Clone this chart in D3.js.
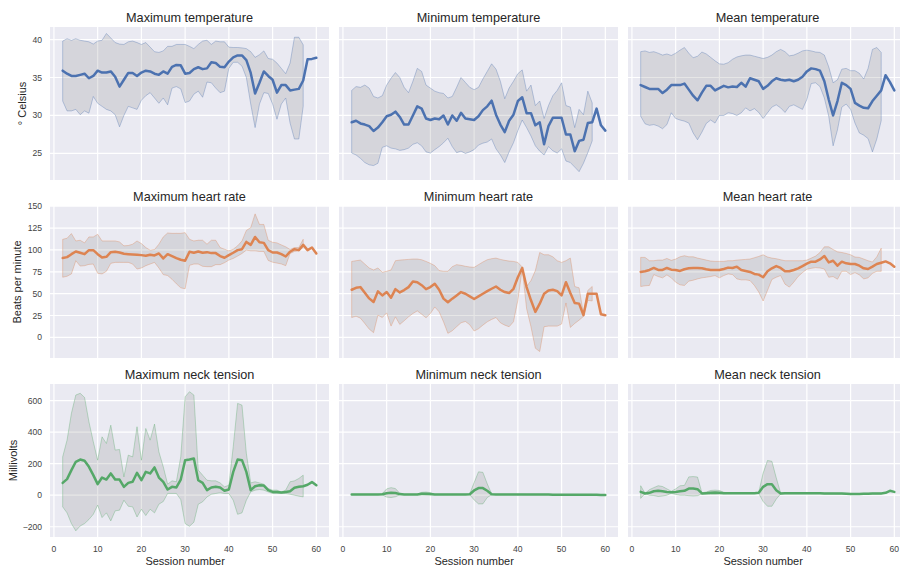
<!DOCTYPE html>
<html>
<head>
<meta charset="utf-8">
<script src="https://cdn.jsdelivr.net/npm/d3@7"></script>
<style>
  body { margin: 0; background: #fff; }
  svg text { font-family: "Liberation Sans", Arial, sans-serif; fill: #262626; }
</style>
</head>
<body>
<svg id="chart" width="900" height="569"></svg>
<script>
// session numbers on the x axis
const sessions = [
  2, 3, 4, 5, 6, 7, 8, 9, 10, 11,
  12, 13, 14, 15, 16, 17, 18, 19, 20, 21,
  22, 23, 24, 25, 26, 27, 28, 29, 30, 31,
  32, 33, 34, 35, 36, 37, 38, 39, 40, 41,
  42, 43, 44, 45, 46, 47, 48, 49, 50, 51,
  52, 53, 54, 55, 56, 57, 58, 59, 60
];

// ---- temperature (° Celsius) ----
const maxTempMean = [
  35.9, 35.5, 35.2, 35.2, 35.35, 35.5, 34.9, 35.2, 35.9, 35.65,
  35.65, 35.8, 35.1, 33.8, 34.7, 35.6, 35.6, 35.2, 35.65, 35.9,
  35.8, 35.5, 35.35, 35.8, 35.5, 36.4, 36.65, 36.6, 35.5, 35.6,
  36.1, 36.35, 36.1, 36.2, 37.0, 36.9, 36.4, 36.35, 37.1, 37.65,
  37.9, 37.9, 37.3, 35.6, 32.9, 34.3, 35.8, 35.2, 34.7, 33.0,
  34.0, 34.0, 33.3, 33.4, 33.5, 34.6, 37.4, 37.45, 37.6
];
const maxTempHi = [
  39.8, 40.1, 39.9, 40.1, 39.9, 39.8, 39.7, 39.4, 39.8, 39.9,
  40.8, 40.2, 39.6, 39.4, 39.35, 39.7, 39.8, 39.6, 39.35, 39.6,
  39.0, 38.4, 38.3, 38.5, 39.1, 39.1, 39.35, 39.35, 39.35, 39.1,
  38.8, 39.35, 39.8, 39.9, 39.35, 39.8, 39.7, 39.7, 39.0, 38.95,
  38.95, 38.9, 38.8, 38.4, 37.65, 38.0, 38.5, 37.5, 37.4, 36.9,
  36.2, 35.5, 36.9, 40.3, 40.3, 39.3
];
const maxTempLo = [
  31.9, 30.6, 30.6, 30.8, 30.1, 30.6, 30.3, 32.5, 31.6, 31.2,
  30.8, 30.6, 30.1, 28.5, 30.0, 31.2, 31.0, 30.8, 32.0, 32.6,
  33.0, 32.3, 31.6, 32.3, 31.4, 33.6, 33.8, 33.5, 31.7, 31.9,
  32.8, 33.2, 32.4, 34.4, 34.3, 33.6, 33.0, 33.2, 36.2, 37.0,
  37.0, 36.5, 35.0, 31.5, 28.4, 31.5, 33.0, 32.9, 31.5, 29.5,
  31.5, 32.3, 29.0, 26.9, 26.9, 31.2
];
const minTempMean = [
  29.1, 29.3, 28.95, 28.8, 28.6, 27.95, 28.4, 29.1, 29.9, 30.1,
  30.5, 29.8, 28.8, 28.8, 30.0, 31.2, 30.9, 29.6, 29.4, 29.6,
  29.5, 30.0, 28.8, 30.0, 29.3, 30.35, 29.6, 29.5, 29.4, 29.9,
  30.7, 31.2, 31.95, 30.1, 28.8, 27.8, 29.3, 30.1, 31.9, 32.4,
  30.3, 30.3, 28.7, 29.1, 26.2, 28.6, 29.7, 29.7, 29.7, 27.5,
  27.5, 25.3, 26.65, 26.8, 29.0, 29.1, 30.9, 28.7, 28.0
];
const minTempHi = [
  33.3, 33.8, 33.7, 34.0, 33.6, 32.5, 32.3, 32.6, 34.0, 34.9,
  35.65, 35.0, 33.7, 33.0, 34.5, 36.2, 35.8, 34.0, 33.6, 33.2,
  33.0, 32.9, 32.3, 32.5, 33.7, 35.0, 34.35, 33.7, 33.4, 33.7,
  34.8, 35.8, 36.8, 36.1, 34.5, 32.2, 33.6, 34.5, 35.5, 36.0,
  33.2, 34.0, 31.3, 31.9, 29.6, 31.3, 32.6, 33.3, 34.3, 31.3,
  31.1, 28.4, 30.8, 30.1, 33.2, 31.65
];
const minTempLo = [
  25.05, 24.8, 24.35, 23.8, 23.5, 23.4, 23.7, 25.8, 26.0, 25.7,
  25.6, 25.4, 25.5, 25.7, 26.2, 26.4, 26.0, 25.2, 25.05, 25.5,
  25.9, 26.4, 27.0, 25.9, 25.1, 25.3, 25.0, 25.2, 25.5, 26.1,
  26.35, 26.5, 26.9, 25.6, 24.8, 23.8, 25.2, 26.4, 28.0, 29.4,
  28.4, 27.3, 26.0, 25.3, 24.8, 25.9, 25.35, 25.05, 25.6, 24.0,
  23.8, 23.2, 22.6, 23.7, 25.1, 26.65
];
const meanTempMean = [
  34.0, 33.75, 33.5, 33.5, 33.5, 32.95, 33.4, 34.0, 34.0, 34.0,
  34.2, 33.4, 32.6, 32.0, 33.0, 33.9, 33.9, 33.3, 33.6, 33.9,
  33.7, 33.8, 33.75, 34.3, 33.8, 34.9, 34.7, 34.5, 33.5, 33.9,
  34.5, 34.9, 34.7, 34.6, 34.7, 34.5, 34.7, 35.1, 35.8, 36.2,
  36.1, 35.9, 34.5, 32.1, 30.0, 31.9, 34.3, 34.0, 33.5, 31.65,
  31.3, 31.0, 30.95, 31.9, 32.6, 33.3, 35.3, 34.4, 33.3
];
const meanTempHi = [
  38.4, 38.5, 38.3, 38.4, 38.2, 37.95, 38.1, 37.9, 38.2, 38.6,
  38.95, 38.2, 37.6, 37.8, 38.35, 38.1, 37.65, 37.2, 36.8, 36.75,
  36.95, 37.4, 37.7, 37.85, 37.95, 37.95, 37.8, 37.65, 37.5, 37.65,
  37.95, 38.4, 38.7, 38.4, 37.85, 37.95, 38.2, 38.5, 38.6, 38.5,
  38.35, 38.3, 37.95, 36.4, 34.3, 34.7, 36.1, 36.2, 35.9, 35.9,
  35.55, 34.8, 36.2, 38.7, 38.95, 38.3
];
const meanTempLo = [
  29.9, 28.9, 28.7, 28.8, 28.6, 28.25, 28.8, 30.35, 29.6, 29.4,
  29.25, 29.0, 27.7, 26.8, 27.8, 28.95, 29.4, 29.0, 30.0, 30.0,
  30.35, 30.25, 30.0, 30.35, 31.0, 30.6, 30.9, 30.4, 29.6, 30.35,
  31.1, 31.4, 31.0, 30.4, 31.2, 31.4, 31.1, 30.8, 32.1, 34.2,
  34.3, 33.8, 32.3, 29.9, 26.0, 28.1, 31.1, 31.5, 30.8, 29.0,
  27.7, 27.4, 26.95, 25.2, 26.9, 29.3
];

// ---- heart rate (beats per minute) ----
const maxHrMean = [
  90.7, 91.8, 95.2, 98.3, 96.8, 95.2, 99.8, 99.8, 95.2, 91.5,
  92.2, 97.5, 97.9, 97.1, 95.6, 95.2, 94.9, 94.5, 94.1, 93.4,
  94.5, 93.7, 96.0, 90.3, 95.2, 93.0, 90.7, 88.8, 87.7, 97.9,
  96.8, 98.3, 96.8, 97.5, 96.4, 96.4, 93.0, 91.1, 94.1, 96.8,
  99.8, 100.9, 109.2, 105.8, 114.9, 108.8, 108.1, 99.8, 97.1, 97.1,
  95.2, 92.5, 98.0, 100.9, 99.8, 105.8, 99.8, 102.8, 96.0
];
const maxHrHi = [
  112.2, 113.4, 118.7, 110.3, 111.1, 108.1, 114.9, 114.9, 117.9, 110.3,
  110.3, 110.3, 110.3, 109.2, 104.7, 105.1, 106.6, 110.3, 107.3, 102.8,
  99.8, 100.5, 106.6, 114.9, 119.4, 119.0, 119.0, 119.0, 119.8, 112.2,
  110.3, 111.1, 111.1, 106.6, 111.1, 111.1, 102.8, 100.9, 99.0, 100.9,
  104.7, 110.3, 122.4, 125.5, 141.3, 129.2, 129.2, 111.1, 108.8, 108.1,
  105.8, 103.6, 100.5, 102.8, 102.8, 112.2
];
const maxHrLo = [
  68.8, 69.9, 72.6, 87.7, 81.6, 82.0, 83.5, 83.9, 73.3, 72.6,
  75.6, 84.7, 85.8, 85.8, 85.8, 85.8, 83.9, 78.2, 79.4, 82.0,
  83.9, 85.8, 79.4, 71.8, 70.7, 66.5, 61.3, 56.7, 55.6, 82.4,
  83.9, 83.9, 81.3, 80.9, 80.9, 83.2, 83.2, 85.4, 88.4, 90.3,
  93.0, 96.0, 99.8, 99.0, 99.0, 98.3, 98.3, 88.0, 86.0, 85.0,
  84.0, 82.0, 96.0, 98.3, 99.0, 103.0
];
const minHrMean = [
  54.5, 56.7, 57.5, 51.1, 44.6, 40.5, 52.6, 48.0, 51.8, 45.4,
  55.2, 51.4, 54.1, 57.5, 63.9, 63.1, 59.7, 55.2, 57.5, 61.3,
  54.5, 44.3, 40.1, 44.3, 48.0, 51.8, 49.9, 46.9, 43.9, 46.9,
  49.9, 52.9, 55.6, 58.2, 54.5, 51.8, 50.7, 55.6, 68.8, 79.4,
  57.5, 42.4, 29.2, 38.6, 49.9, 53.7, 54.5, 52.9, 48.0, 63.1,
  50.7, 39.4, 38.6, 25.4, 49.9, 49.9, 49.9, 26.5, 25.4
];
const minHrHi = [
  86.9, 87.7, 88.4, 83.9, 79.4, 77.1, 79.4, 74.5, 75.6, 77.1,
  87.7, 88.4, 88.8, 89.2, 89.6, 89.6, 88.8, 86.9, 84.7, 82.0,
  76.4, 75.6, 75.6, 80.9, 83.2, 82.4, 81.3, 80.5, 80.1, 83.2,
  86.2, 88.8, 90.0, 90.7, 89.2, 88.1, 87.3, 86.9, 85.8, 80.5,
  58.2, 65.0, 76.4, 97.1, 94.5, 94.5, 92.2, 87.7, 85.8, 87.7,
  90.7, 58.2, 56.7, 27.0, 53.7, 58.2
];
const minHrLo = [
  22.7, 24.2, 22.0, 15.9, 9.5, 5.4, 25.4, 22.7, 28.0, 12.9,
  23.5, 14.8, 19.0, 23.5, 27.3, 30.3, 26.5, 22.4, 27.3, 34.8,
  29.2, 17.8, 4.6, 7.6, 12.2, 16.7, 18.2, 14.4, 7.3, 9.9,
  14.0, 17.8, 20.5, 22.7, 16.7, 14.0, 12.2, 17.8, 42.4, 78.5,
  32.9, 12.2, -12.4, -16.2, 12.2, 12.9, 12.9, 12.9, 15.2, 39.4,
  11.4, 15.9, 19.7, 24.0, 42.4, 41.6
];
const meanHrMean = [
  74.9, 75.6, 77.1, 79.4, 77.1, 77.1, 79.4, 77.5, 77.1, 76.0,
  77.9, 79.0, 79.4, 79.4, 79.0, 77.9, 77.1, 77.1, 77.1, 78.2,
  79.8, 79.4, 80.9, 77.1, 76.0, 74.9, 72.6, 71.8, 68.8, 75.6,
  79.0, 81.6, 79.4, 75.6, 75.6, 77.1, 79.0, 81.6, 84.3, 86.6,
  86.6, 89.2, 93.0, 85.8, 87.7, 82.0, 86.6, 84.7, 83.9, 83.9,
  82.0, 79.0, 78.2, 80.9, 83.9, 85.4, 86.9, 84.7, 80.9
];
const meanHrHi = [
  91.5, 91.5, 87.7, 87.7, 88.4, 88.4, 90.3, 88.1, 89.6, 92.2,
  93.4, 92.2, 92.2, 90.7, 89.6, 88.4, 87.3, 86.9, 86.9, 86.9,
  87.7, 87.7, 88.4, 88.8, 89.2, 89.6, 91.1, 92.6, 94.5, 91.9,
  90.7, 90.0, 88.8, 87.7, 87.7, 87.7, 87.7, 87.7, 88.4, 90.7,
  93.0, 97.1, 103.6, 103.6, 100.5, 97.9, 97.1, 96.0, 94.5, 91.9,
  91.5, 89.6, 87.7, 86.2, 92.2, 102.0
];
const meanHrLo = [
  58.2, 59.0, 59.4, 71.8, 69.6, 68.1, 71.5, 68.1, 63.1, 60.1,
  59.4, 64.3, 65.4, 66.9, 68.1, 68.8, 69.6, 70.7, 68.1, 70.7,
  72.6, 71.8, 66.9, 65.8, 65.8, 65.0, 59.4, 51.8, 41.6, 53.7,
  66.2, 68.8, 70.7, 60.9, 57.5, 63.1, 69.6, 74.1, 77.9, 79.0,
  79.8, 79.4, 78.2, 68.8, 69.6, 66.5, 75.6, 75.6, 71.8, 74.1,
  71.5, 66.9, 68.1, 73.3, 75.6, 75.6
];

// ---- neck tension (millivolts) ----
const maxNeckMean = [
  78, 102, 159, 212, 226, 218, 180, 127, 70, 112,
  99, 138, 99, 99, 53, 78, 85, 142, 95, 148,
  138, 176, 112, 85, 36, 53, 49, 99, 222, 226,
  233, 95, 78, 32, 49, 53, 49, 28, 36, 148,
  226, 222, 148, 32, 57, 63, 61, 32, 21, 21,
  17, 21, 25, 47, 53, 57, 66, 83, 63
];
const maxNeckHi = [
  243, 349, 519, 635, 646, 620, 466, 339, 222, 370,
  328, 444, 286, 290, 116, 254, 243, 434, 222, 423,
  349, 451, 275, 180, 70, 91, 85, 243, 624, 656,
  635, 159, 127, 95, 91, 91, 78, 53, 63, 307,
  582, 571, 265, 78, 85, 78, 70, 42, 32, 32,
  21, 32, 85, 91, 106, 127
];
const maxNeckLo = [
  -74, -112, -180, -226, -195, -180, -154, -121, -63, -142,
  -112, -163, -99, -95, -32, -70, -74, -138, -89, -129,
  -89, -112, -57, -40, 11, 11, 11, -28, -180, -197,
  -171, -57, -42, -11, 6, 11, 15, 11, 11, -32,
  -121, -112, -32, 21, 32, 36, 32, 21, 11, 11,
  11, 11, 6, 0, -6, -11
];
const minNeckMean = [
  5, 5, 5, 5, 5, 5, 5, 6, 12, 15,
  14, 7, 5, 5, 5, 5, 9, 9, 8, 5,
  5, 5, 5, 5, 5, 5, 5, 6, 30, 45,
  45, 28, 6, 5, 5, 5, 5, 5, 5, 5,
  4, 4, 4, 4, 4, 4, 3, 3, 3, 3,
  3, 3, 3, 3, 3, 3, 3, 2, 2
];
const minNeckHi = [
  7, 7, 7, 7, 7, 7, 7, 10, 40, 48,
  42, 12, 7, 7, 7, 7, 18, 20, 16, 7,
  7, 7, 7, 7, 7, 7, 7, 9, 80, 148,
  145, 72, 9, 7, 7, 7, 7, 7, 7, 7,
  6, 6, 6, 6, 6, 6, 5, 5, 5, 5,
  5, 5, 5, 5, 5, 5
];
const minNeckLo = [
  3, 3, 3, 3, 3, 3, 3, 2, -12, -15,
  -10, 2, 3, 3, 3, 3, 1, 0, 1, 3,
  3, 3, 3, 3, 3, 3, 3, 3, -30, -55,
  -55, -15, 3, 3, 3, 3, 3, 3, 3, 3,
  2, 2, 2, 2, 2, 2, 1, 1, 1, 1,
  1, 1, 1, 1, 1, 1
];
const meanNeckMean = [
  21, 11, 15, 25, 28, 25, 21, 19, 21, 25,
  28, 42, 42, 38, 11, 13, 15, 17, 15, 13,
  13, 13, 13, 13, 13, 13, 13, 15, 53, 70,
  70, 32, 11, 12, 12, 12, 12, 12, 12, 12,
  12, 12, 11, 11, 11, 10, 10, 9, 8, 8,
  8, 9, 9, 10, 10, 11, 15, 28, 21
];
const meanNeckHi = [
  60, 12, 35, 48, 60, 55, 40, 25, 40, 60,
  62, 116, 118, 115, 15, 20, 30, 32, 30, 18,
  16, 16, 16, 16, 16, 16, 16, 18, 140, 220,
  215, 110, 14, 15, 15, 15, 15, 15, 15, 15,
  15, 15, 14, 14, 14, 13, 13, 12, 11, 11,
  11, 12, 12, 13, 13, 14
];
const meanNeckLo = [
  -20, 10, 0, -2, -8, -5, 0, 12, 5, 0,
  0, -3, -5, -3, 8, 8, 5, 5, 6, 9,
  10, 10, 10, 10, 10, 10, 10, 10, -40, -70,
  -70, -25, 8, 9, 9, 9, 9, 9, 9, 9,
  9, 9, 8, 8, 8, 7, 7, 6, 5, 5,
  5, 6, 6, 7, 7, 8
];

// tick labels
const sessionTicks = [0, 10, 20, 30, 40, 50, 60];
const tempTicks = [25, 30, 35, 40];
const hrTicks = [0, 25, 50, 75, 100, 125, 150];
const neckTicks = [-200, 0, 200, 400, 600];

const rows = [
  { label: "° Celsius", domain: [21.5, 41.65], ticks: tempTicks, color: "#4C72B0", labelX: 22, top: 27, h: 153 },
  { label: "Beats per minute", domain: [-23.6, 150.3], ticks: hrTicks, color: "#DD8452", labelX: 17, top: 206, h: 152 },
  { label: "Millivolts", domain: [-265, 705], ticks: neckTicks, color: "#55A868", labelX: 13, top: 384, h: 153 }
];

const panels = [
  { title: "Maximum temperature", row: 0, col: 0, mean: maxTempMean, hi: maxTempHi, lo: maxTempLo },
  { title: "Minimum temperature", row: 0, col: 1, mean: minTempMean, hi: minTempHi, lo: minTempLo },
  { title: "Mean temperature", row: 0, col: 2, mean: meanTempMean, hi: meanTempHi, lo: meanTempLo },
  { title: "Maximum heart rate", row: 1, col: 0, mean: maxHrMean, hi: maxHrHi, lo: maxHrLo },
  { title: "Minimum heart rate", row: 1, col: 1, mean: minHrMean, hi: minHrHi, lo: minHrLo },
  { title: "Mean heart rate", row: 1, col: 2, mean: meanHrMean, hi: meanHrHi, lo: meanHrLo },
  { title: "Maximum neck tension", row: 2, col: 0, mean: maxNeckMean, hi: maxNeckHi, lo: maxNeckLo },
  { title: "Minimum neck tension", row: 2, col: 1, mean: minNeckMean, hi: minNeckHi, lo: minNeckLo },
  { title: "Mean neck tension", row: 2, col: 2, mean: meanNeckMean, hi: meanNeckHi, lo: meanNeckLo }
];

const colLeft = [50, 339, 628];
const pw = 279;

const svg = d3.select("#chart");

panels.forEach((p, k) => {
  const row = rows[p.row];
  const ph = row.h;
  const g = svg.append("g")
    .attr("transform", `translate(${colLeft[p.col]},${row.top})`);

  const x = d3.scaleLinear().domain([-0.9, 62.9]).range([0, pw]);
  const y = d3.scaleLinear().domain(row.domain).range([ph, 0]);

  g.append("clipPath").attr("id", "clip" + k)
    .append("rect").attr("width", pw).attr("height", ph);

  g.append("rect")
    .attr("width", pw).attr("height", ph)
    .attr("fill", "#EAEAF2");

  // grid
  g.append("g").selectAll("line").data(sessionTicks).join("line")
    .attr("x1", d => x(d)).attr("x2", d => x(d))
    .attr("y1", 0).attr("y2", ph)
    .attr("stroke", "#fff").attr("stroke-width", 1.2);
  g.append("g").selectAll("line").data(row.ticks).join("line")
    .attr("x1", 0).attr("x2", pw)
    .attr("y1", d => y(d)).attr("y2", d => y(d))
    .attr("stroke", "#fff").attr("stroke-width", 1.2);

  const pts = sessions.map((s, i) => ({
    s: s,
    m: p.mean[i],
    hi: i < p.hi.length ? p.hi[i] : null,
    lo: i < p.lo.length ? p.lo[i] : null
  }));

  const plot = g.append("g").attr("clip-path", `url(#clip${k})`);

  const area = d3.area()
    .defined(d => d.hi != null)
    .x(d => x(d.s)).y0(d => y(d.lo)).y1(d => y(d.hi));

  plot.append("path").datum(pts)
    .attr("d", area)
    .attr("fill", "#808080").attr("fill-opacity", 0.2)
    .attr("stroke", row.color).attr("stroke-opacity", 0.35)
    .attr("stroke-width", 1);

  const line = d3.line().x(d => x(d.s)).y(d => y(d.m));
  plot.append("path").datum(pts)
    .attr("d", line)
    .attr("fill", "none")
    .attr("stroke", row.color)
    .attr("stroke-width", 2.5)
    .attr("stroke-linejoin", "round")
    .attr("stroke-linecap", "round");

  // title
  g.append("text")
    .attr("x", pw / 2).attr("y", -5.5)
    .attr("text-anchor", "middle")
    .style("font-size", "12.7px")
    .text(p.title);

  // y tick labels on first column
  if (p.col === 0) {
    g.append("g").selectAll("text").data(row.ticks).join("text")
      .attr("x", -8).attr("y", d => y(d)).attr("dy", "0.35em")
      .attr("text-anchor", "end")
      .style("font-size", "8.6px").style("fill", "#444")
      .text(d => d < 0 ? "\u2212" + Math.abs(d) : d);
    svg.append("text")
      .attr("transform", `translate(${row.labelX},${row.top + ph / 2}) rotate(-90)`)
      .attr("text-anchor", "middle").attr("dy", "0.35em")
      .style("font-size", "11px")
      .text(row.label);
  }

  // x tick labels on bottom row
  if (p.row === 2) {
    g.append("g").selectAll("text").data(sessionTicks).join("text")
      .attr("x", d => x(d)).attr("y", ph + 15)
      .attr("text-anchor", "middle")
      .style("font-size", "8.6px").style("fill", "#444")
      .text(d => d);
    g.append("text")
      .attr("x", x(30)).attr("y", ph + 27.5)
      .attr("text-anchor", "middle")
      .style("font-size", "11px")
      .text("Session number");
  }
});
</script>
</body>
</html>
